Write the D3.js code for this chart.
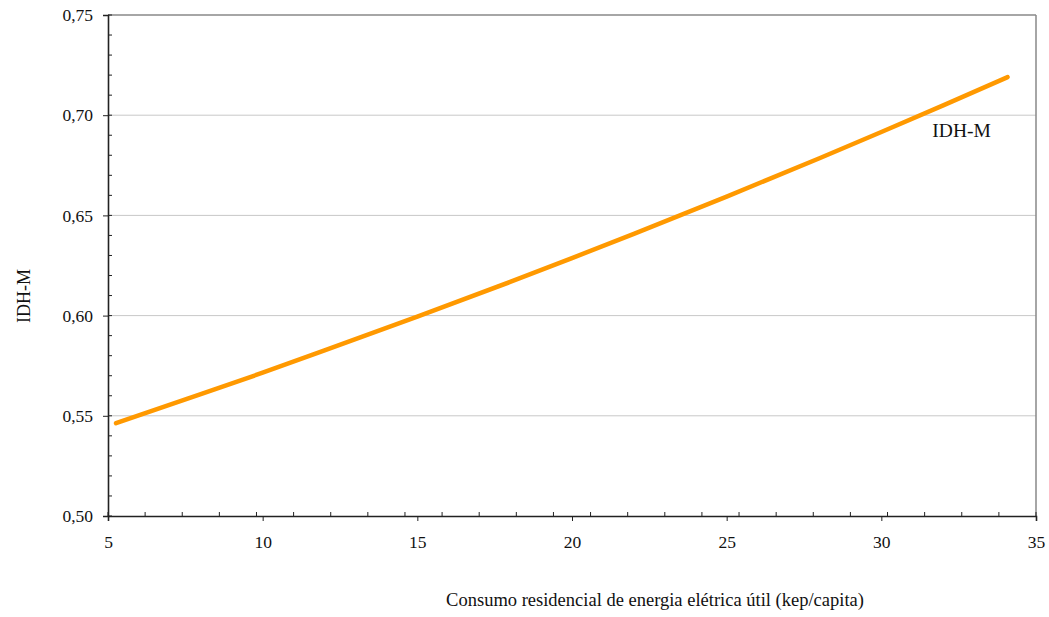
<!DOCTYPE html>
<html>
<head>
<meta charset="utf-8">
<script src="https://cdn.jsdelivr.net/npm/d3@7"></script>
<style>
  body { margin: 0; background: #fff; }
  svg text { font-family: "Liberation Serif", "Times New Roman", serif; fill: #111; }
</style>
</head>
<body>
<div id="chart"></div>
<script>
// values
const consumo = [5.26, 8, 10, 12, 15, 18, 20, 22, 25, 28, 30, 32, 34.08] ;
const idhm    = [0.5463, 0.5608, 0.5715, 0.5826, 0.5995, 0.6168, 0.6287, 0.6408, 0.6594, 0.6785, 0.6916, 0.7049, 0.719] ;

const xTicks = [5, 10, 15, 20, 25, 30, 35] ;
const xTickLabels = ["5", "10", "15", "20", "25", "30", "35"] ;
const yTicks = [0.50, 0.55, 0.60, 0.65, 0.70, 0.75] ;
const yTickLabels = ["0,50", "0,55", "0,60", "0,65", "0,70", "0,75"] ;
const seriesName = "IDH-M" ;
const xTitle = "Consumo residencial de energia elétrica útil (kep/capita)" ;
const yTitle = "IDH-M" ;

const serif = "Liberation Serif, Times New Roman, serif" ;

let dimensions = {
  width: 1049,
  height: 617,
  margin: { top: 15, right: 13, bottom: 101, left: 108 },
}
dimensions.boundedWidth = dimensions.width - dimensions.margin.left - dimensions.margin.right
dimensions.boundedHeight = dimensions.height - dimensions.margin.top - dimensions.margin.bottom

const svg = d3.select("#chart").append("svg")
    .attr("width", dimensions.width)
    .attr("height", dimensions.height)
;
const bounds = svg.append("g")
    .attr("transform", `translate(${dimensions.margin.left}, ${dimensions.margin.top})`)
;

const xScale = d3.scaleLinear()
  .domain([5, 35])
  .range([0, dimensions.boundedWidth])
;
const yScale = d3.scaleLinear()
  .domain([0.5, 0.75])
  .range([dimensions.boundedHeight, 0])
;

// gridlines (the top one is the darker plot border)
bounds.selectAll(".grid")
  .data(yTicks.filter(d => d > 0.5))
  .enter().append("line")
    .attr("class", "grid")
    .attr("x1", 0)
    .attr("x2", dimensions.boundedWidth)
    .attr("y1", d => yScale(d))
    .attr("y2", d => yScale(d))
    .attr("stroke", d => d == 0.75 ? "#888" : "#c8c8c8")
    .attr("stroke-width", d => d == 0.75 ? 1.5 : 1)
;
// right border
bounds.append("line")
  .attr("x1", dimensions.boundedWidth).attr("x2", dimensions.boundedWidth)
  .attr("y1", 0).attr("y2", dimensions.boundedHeight)
  .attr("stroke", "#888").attr("stroke-width", 1.5)
;

// minor ticks: 25 intervals on x, 0.01 on y, both drawn inward
const xMinor = d3.range(26).map(i => 5 + i * 1.2) ;
const yMinor = d3.range(26).map(i => 0.5 + i * 0.01) ;

bounds.selectAll(".xminor")
  .data(xMinor)
  .enter().append("line")
    .attr("x1", d => xScale(d)).attr("x2", d => xScale(d))
    .attr("y1", dimensions.boundedHeight).attr("y2", dimensions.boundedHeight - 4)
    .attr("stroke", "#222").attr("stroke-width", 1)
;
bounds.selectAll(".yminor")
  .data(yMinor)
  .enter().append("line")
    .attr("x1", 0).attr("x2", 4)
    .attr("y1", d => yScale(d)).attr("y2", d => yScale(d))
    .attr("stroke", "#222").attr("stroke-width", 1)
;

// axes
const xAxisGenerator = d3.axisBottom(xScale)
  .tickValues(xTicks)
  .tickFormat((d, i) => xTickLabels[i])
  .tickSize(5)
  .tickPadding(15)
;
const xAxis = bounds.append("g")
  .attr("transform", `translate(0, ${dimensions.boundedHeight})`)
  .call(xAxisGenerator)
;
const yAxisGenerator = d3.axisLeft(yScale)
  .tickValues(yTicks)
  .tickFormat((d, i) => yTickLabels[i])
  .tickSize(5)
  .tickPadding(10)
;
const yAxis = bounds.append("g")
  .call(yAxisGenerator)
;
[xAxis, yAxis].forEach(ax => {
  ax.attr("font-family", serif).attr("font-size", 17.5) ;
  ax.select(".domain").attr("stroke", "#222").attr("stroke-width", 1.6) ;
  ax.selectAll(".tick line").attr("stroke", "#222").attr("stroke-width", 1) ;
  ax.selectAll(".tick text")
    .attr("font-family", serif)
    .attr("fill", "#111") ;
}) ;

// the series
const line = d3.line()
  .x((d, i) => xScale(consumo[i]))
  .y((d, i) => yScale(idhm[i]))
  .curve(d3.curveMonotoneX)
;
bounds.append("path")
  .datum(idhm)
  .attr("d", line)
  .attr("fill", "none")
  .attr("stroke", "#ff9900")
  .attr("stroke-width", 4.5)
  .attr("stroke-linecap", "round")
;

// series label
bounds.append("text")
  .attr("x", xScale(31.65))
  .attr("y", yScale(0.689))
  .style("font-size", "19.5px")
  .text(seriesName)
;

// axis titles
svg.append("text")
  .attr("x", 655)
  .attr("y", 606)
  .attr("text-anchor", "middle")
  .style("font-size", "18.5px")
  .text(xTitle)
;
svg.append("text")
  .attr("transform", "translate(30, 296) rotate(-90)")
  .attr("text-anchor", "middle")
  .style("font-size", "18px")
  .text(yTitle)
;
</script>
</body>
</html>
